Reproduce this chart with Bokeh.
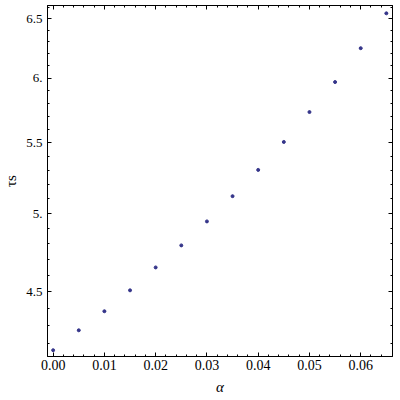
from bokeh.plotting import figure
from bokeh.models import (Range1d, FixedTicker, LinearAxis, LogAxis,
                          CustomJSTickFormatter, ColumnDataSource)
from bokeh.embed import file_html
from bokeh.resources import INLINE

# data
alpha = [0.000, 0.005, 0.010, 0.015, 0.020, 0.025, 0.030,
         0.035, 0.040, 0.045, 0.050, 0.055, 0.060, 0.065]
tau_s = [4.161, 4.274, 4.385, 4.510, 4.651, 4.791, 4.948,
         5.119, 5.303, 5.506, 5.732, 5.968, 6.246, 6.546]

x_major = [0.00, 0.01, 0.02, 0.03, 0.04, 0.05, 0.06]
x_minor = [0.002, 0.004, 0.006, 0.008, 0.012, 0.014, 0.016, 0.018,
           0.022, 0.024, 0.026, 0.028, 0.032, 0.034, 0.036, 0.038,
           0.042, 0.044, 0.046, 0.048, 0.052, 0.054, 0.056, 0.058,
           0.062, 0.064]
y_major = [4.5, 5.0, 5.5, 6.0, 6.5]
y_minor = [4.2, 4.3, 4.4, 4.6, 4.7, 4.8, 4.9, 5.1, 5.2, 5.3, 5.4,
           5.6, 5.7, 5.8, 5.9, 6.1, 6.2, 6.3, 6.4, 6.6]

FONT = "Liberation Serif"

p = figure(width=400, height=400, output_backend="svg", toolbar_location=None,
           y_axis_type="log", x_axis_type="linear",
           x_range=Range1d(-0.0011, 0.0662), y_range=Range1d(4.126, 6.615),
           min_border_left=42, min_border_right=8, min_border_top=5,
           min_border_bottom=44, x_axis_location=None, y_axis_location=None)
p.grid.visible = False
p.outline_line_color = "black"
p.outline_line_width = 1
p.background_fill_color = "white"
p.border_fill_color = "white"

xt = FixedTicker(ticks=x_major, minor_ticks=x_minor)
yt = FixedTicker(ticks=y_major, minor_ticks=y_minor)
xfmt = CustomJSTickFormatter(code="return tick.toFixed(2);")
yfmt = CustomJSTickFormatter(code="return (Math.abs(tick - Math.round(tick)) < 1e-9) ? Math.round(tick) + '.' : tick.toFixed(1);")
nofmt = CustomJSTickFormatter(code="return '';")


def style(ax, size="13px"):
    ax.major_tick_in = 4
    ax.major_tick_out = 0
    ax.minor_tick_in = 2
    ax.minor_tick_out = 0
    ax.axis_line_color = "black"
    ax.major_tick_line_color = "black"
    ax.minor_tick_line_color = "black"
    ax.major_label_text_font = FONT
    ax.major_label_text_font_size = size
    ax.major_label_text_color = "black"
    ax.axis_label_text_font = FONT
    ax.axis_label_text_font_size = "15px"
    ax.axis_label_text_color = "black"


bottom = LinearAxis(ticker=xt, formatter=xfmt, axis_label="α")
style(bottom, "14px")
bottom.major_label_standoff = 3
bottom.axis_label_standoff = 6
bottom.axis_label_text_font_style = "italic"

left = LogAxis(ticker=yt, formatter=yfmt, axis_label="τs")
style(left, "13px")
left.major_label_standoff = 5
left.axis_label_standoff = 4
left.axis_label_text_font_style = "normal"

top = LinearAxis(ticker=xt, formatter=nofmt)
style(top)
top.major_label_standoff = 0
right = LogAxis(ticker=yt, formatter=nofmt)
style(right)
right.major_label_standoff = 0

p.add_layout(bottom, "below")
p.add_layout(top, "above")
p.add_layout(left, "left")
p.add_layout(right, "right")

src = ColumnDataSource(data=dict(x=alpha, y=tau_s))
p.scatter("x", "y", source=src, size=3, color="#35358a", line_color="#35358a")

open("out.html", "w").write(file_html(p, INLINE))
